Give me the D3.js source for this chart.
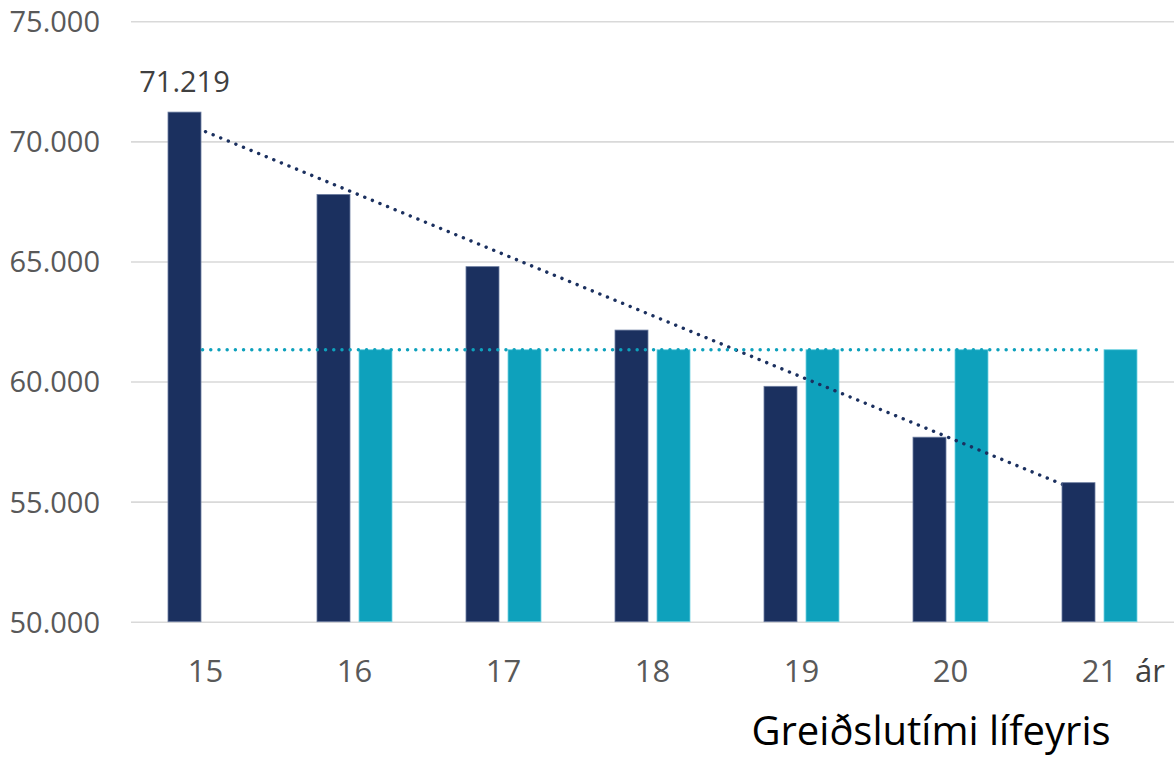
<!DOCTYPE html>
<html>
<head>
<meta charset="utf-8">
<script src="https://cdn.jsdelivr.net/npm/d3@7"></script>
<style>
  body { margin: 0; background: #fff; }
  text { font-family: "Open Sans", "Liberation Sans", sans-serif; }
</style>
</head>
<body>
<script>
var years = ["15", "16", "17", "18", "19", "20", "21"];
var darkValues = [71219, 67791, 64784, 62143, 59801, 57683, 55789];
var tealValues = [null, 61325, 61325, 61325, 61325, 61325, 61325];
var yTicks = [50000, 55000, 60000, 65000, 70000, 75000];

var W = 1174, H = 757;
var navy = "#1b305f", teal = "#0ea1bc";

var svg = d3.select("body").append("svg")
    .attr("width", W)
    .attr("height", H);

var x = d3.scaleBand().domain(years).range([131, 1174]).padding(0);
var y = d3.scaleLinear().domain([50000, 75000]).range([621.7, 21.3]);

var barW = 33, gap = 9;
var cx = function (d) { return x(d) + x.bandwidth() / 2; };

var loc = d3.formatLocale({ decimal: ",", thousands: ".", grouping: [3], currency: ["", ""] });
var fmt = loc.format(",d");

// gridlines + y labels
var yAxis = svg.append("g")
    .attr("transform", "translate(131,0)")
    .call(d3.axisLeft(y).tickValues(yTicks).tickFormat(fmt).tickSize(-(W - 131)).tickPadding(31));
yAxis.select(".domain").remove();
yAxis.selectAll("line").attr("stroke", "#d9d9d9").attr("stroke-width", 1.6);
yAxis.selectAll("text")
    .attr("fill", "#595959")
    .style("font-size", "29px")
    .attr("dy", "0.36em");

// x labels
svg.append("g").selectAll("text")
    .data(years)
    .enter().append("text")
    .attr("x", cx)
    .attr("y", 682)
    .attr("text-anchor", "middle")
    .attr("fill", "#595959")
    .style("font-size", "31px")
    .text(function (d) { return d; });

svg.append("text")
    .attr("x", 1135).attr("y", 682)
    .attr("fill", "#404040")
    .style("font-size", "31px")
    .text("ár");

svg.append("text")
    .attr("x", 931).attr("y", 745)
    .attr("text-anchor", "middle")
    .attr("fill", "#000")
    .style("font-size", "40px")
    .text("Greiðslutími lífeyris");

// linear trend over category index
function trend(vals) {
    var pts = vals.map(function (v, i) { return [i, v]; }).filter(function (p) { return p[1] != null; });
    var mx = d3.mean(pts, function (p) { return p[0]; });
    var my = d3.mean(pts, function (p) { return p[1]; });
    var sxy = d3.sum(pts, function (p) { return (p[0] - mx) * (p[1] - my); });
    var sxx = d3.sum(pts, function (p) { return (p[0] - mx) * (p[0] - mx); });
    var b = sxy / sxx;
    return function (i) { return my + b * (i - mx); };
}

var x0 = cx(years[0]), step = x.bandwidth();
var line = d3.line()
    .x(function (d) { return x0 + d[0] * step; })
    .y(function (d) { return y(d[1]); });

var dots = function (sel, color) {
    sel.attr("fill", "none")
        .attr("stroke", color)
        .attr("stroke-width", 3.4)
        .attr("stroke-linecap", "round")
        .attr("stroke-dasharray", "0.1 8.1");
};

// teal bars
svg.append("g").selectAll("rect")
    .data(years.map(function (d, i) { return { k: d, v: tealValues[i] }; }).filter(function (d) { return d.v != null; }))
    .enter().append("rect")
    .attr("x", function (d) { return cx(d.k) + gap / 2; })
    .attr("y", function (d) { return y(d.v); })
    .attr("width", barW)
    .attr("height", function (d) { return y(50000) - y(d.v); })
    .attr("fill", teal)
    .attr("stroke", "#6fd2e2")
    .attr("stroke-width", 0.8);

// navy trendline (runs on behind the last navy bar)
var tDark = trend(darkValues);
var iEnd = 6 - (gap / 2 + barW / 2) / step;
svg.append("path")
    .attr("d", line([[0, tDark(0)], [iEnd, tDark(iEnd)]]))
    .call(dots, navy);

// navy bars
svg.append("g").selectAll("rect")
    .data(years.map(function (d, i) { return { k: d, v: darkValues[i] }; }))
    .enter().append("rect")
    .attr("x", function (d) { return cx(d.k) - gap / 2 - barW; })
    .attr("y", function (d) { return y(d.v); })
    .attr("width", barW)
    .attr("height", function (d) { return y(50000) - y(d.v); })
    .attr("fill", navy)
    .attr("stroke", "#6c7da0")
    .attr("stroke-width", 0.8);

// teal trendline
var tTeal = trend(tealValues);
svg.append("path")
    .attr("d", line([[-0.02, tTeal(0)], [6, tTeal(6)]]))
    .call(dots, teal);

// data label
svg.append("text")
    .attr("x", cx(years[0]) - gap / 2 - barW / 2)
    .attr("y", y(darkValues[0]) - 20)
    .attr("text-anchor", "middle")
    .attr("fill", "#404040")
    .style("font-size", "29px")
    .text(fmt(darkValues[0]));
</script>
</body>
</html>
